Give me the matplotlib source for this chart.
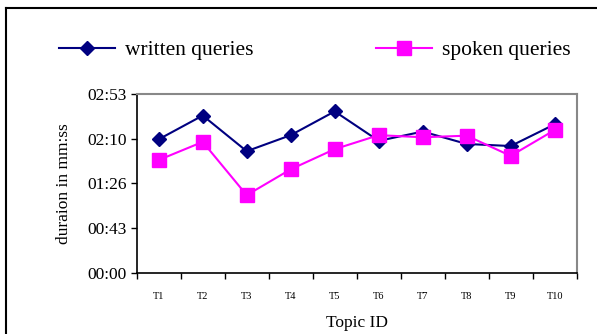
import matplotlib
matplotlib.use('Agg')
import matplotlib.pyplot as plt
from matplotlib.lines import Line2D

## query durations per topic, in seconds
topics = ['T1', 'T2', 'T3', 'T4', 'T5', 'T6', 'T7', 'T8', 'T9', 'T10']
written = [129, 152, 117.5, 133, 156, 127.5, 136.5, 124.5, 122.5, 143.5]
spoken = [109, 126.5, 75, 100, 119.5, 133, 131, 132.5, 113, 138]
yticks = [0, 43.2, 86.4, 129.6, 172.8]

plt.rcParams['font.family'] = ['Liberation Serif', 'DejaVu Serif']

def mmss(v):
	s = int(round(v))
	return '%02d:%02d' % (s // 60, s % 60)

fig = plt.figure(figsize=(5.97, 3.34), dpi=100)
ax = fig.add_axes([0.229, 0.1835, 0.737, 0.535])

x = range(len(topics))
ax.plot(x, written, color='#000080', lw=1.5, marker='D', ms=7, label='written queries')
ax.plot(x, spoken, color='#FF00FF', lw=1.5, marker='s', ms=10, label='spoken queries')

ax.set_xlim(-0.5, len(topics) - 0.5)
ax.set_ylim(0, 172.8)
ax.set_yticks(yticks)
ax.set_yticklabels([mmss(v) for v in yticks], fontsize=12.5)
ax.set_xticks([i - 0.5 for i in range(len(topics) + 1)])
ax.set_xticklabels([])
ax.set_xticks(list(x), minor=True)
ax.set_xticklabels(topics, minor=True, fontsize=7.5)
ax.tick_params(axis='x', which='minor', length=0, pad=14)
ax.tick_params(axis='x', which='major', direction='out', length=4, width=1)
ax.tick_params(axis='y', direction='out', length=4, width=1, pad=3)

for s in ['top', 'right']:
	ax.spines[s].set_color('#888888')
	ax.spines[s].set_linewidth(1.5)
for s in ['left', 'bottom']:
	ax.spines[s].set_linewidth(1.2)

ax.set_ylabel('duraion in mm:ss', fontsize=12.5, labelpad=11)
ax.set_xlabel('Topic ID', fontsize=12.5, labelpad=10)

fig.legend(loc='center', bbox_to_anchor=(0.527, 0.849), ncol=2, frameon=False,
	fontsize=15.5, handlelength=2.6, handletextpad=0.47, columnspacing=5.7)

## outer frame (top and left edges only)
fig.add_artist(Line2D([6 / 597, 1], [1 - 8 / 334, 1 - 8 / 334], color='black', lw=1.5, transform=fig.transFigure))
fig.add_artist(Line2D([6 / 597, 6 / 597], [0, 1 - 8 / 334], color='black', lw=1.5, transform=fig.transFigure))

plt.savefig('out.png', dpi=100)
